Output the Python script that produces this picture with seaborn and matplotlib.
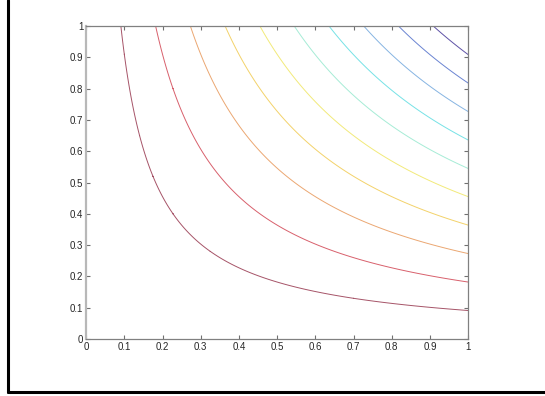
import numpy as np
import matplotlib
matplotlib.use("Agg")
import matplotlib.pyplot as plt
import seaborn as sns

levels = [0.091, 0.182, 0.273, 0.364, 0.455, 0.545, 0.636, 0.727, 0.818, 0.909]
level_colors = ["#a65468", "#d8606c", "#eba772", "#f3d26a", "#f2ea7a",
                "#a6ecd6", "#76e2e6", "#86b4e2", "#6a84d2", "#5e52a6"]
tick_values = [0, 0.1, 0.2, 0.3, 0.4, 0.5, 0.6, 0.7, 0.8, 0.9, 1]
tick_labels = ["0", "0.1", "0.2", "0.3", "0.4", "0.5", "0.6", "0.7", "0.8", "0.9", "1"]

sns.set_style("white")
plt.rcParams["font.family"] = ["Liberation Sans", "DejaVu Sans"]

xs = np.linspace(0, 1, 401)
ys = np.linspace(0, 1, 401)
X, Y = np.meshgrid(xs, ys)
Z = X * Y

fig = plt.figure(figsize=(5.45, 3.96), dpi=100)
ax = fig.add_axes([0.158, 0.144, 0.701, 0.790])
ax.contour(X, Y, Z, levels=levels, colors=level_colors, linewidths=0.7)

ax.set_xlim(0, 1)
ax.set_ylim(0, 1)
ax.set_xticks(tick_values)
ax.set_xticklabels(tick_labels)
ax.set_yticks(tick_values)
ax.set_yticklabels(tick_labels)
ax.tick_params(direction="in", length=3, width=0.8, color="#707070",
               labelsize=7, pad=2, top=True, right=True,
               bottom=True, left=True)
for side, sp in ax.spines.items():
    sp.set_color("#808080")
    sp.set_linewidth(0.9)
ax.spines["left"].set_color("#b8b8b8")
ax.spines["left"].set_linewidth(1.6)

# outer frame (left and bottom edges visible)
fig.add_artist(plt.Line2D([8 / 545, 8 / 545], [4 / 396, 1.0],
                          transform=fig.transFigure, color="black", lw=2.2))
fig.add_artist(plt.Line2D([8 / 545, 1.0], [4 / 396, 4 / 396],
                          transform=fig.transFigure, color="black", lw=2.2))

fig.savefig("out.png", dpi=100)
